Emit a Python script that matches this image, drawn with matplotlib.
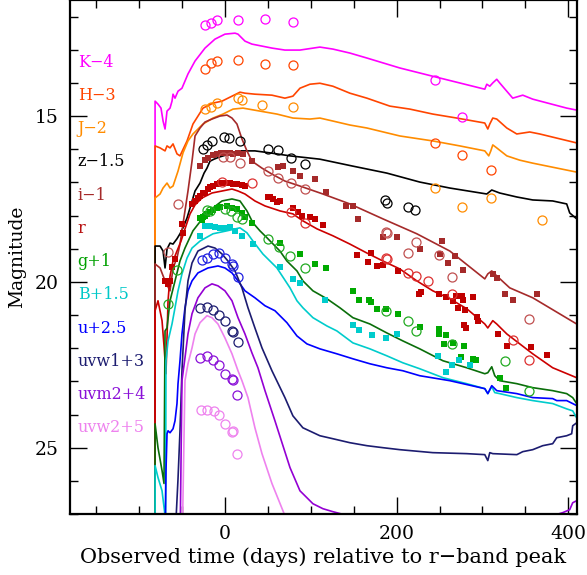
import matplotlib.pyplot as plt
from matplotlib.ticker import MultipleLocator

plt.rcParams['font.family'] = 'DejaVu Serif'

# ---- model light curves (day, magnitude incl. offset) ----
k_day = [-81, -81, -77.6, -74.1, -71.7, -69.4, -67.1, -63.6, -61.3, -60.1, -57.8, -54.3, -49.7, -42.7, -34.5,
         -22.9, -11.3, 0.3, 12, 15.5, 23.6, 31.7, 43.4, 55, 70.1, 87.6, 110.8, 125.9, 145.7, 165.5, 203.8,
         242.2, 302.7, 305, 308.5, 312, 316.6, 320, 335.2, 346.9, 358.5, 398, 409.6]
k_mag = [28, 14.55, 14.64, 14.76, 15.15, 15.39, 14.85, 14.76, 14.55, 14.34, 14.46, 14.25, 14.16, 13.73, 13.34,
         12.95, 12.68, 12.53, 12.5, 12.53, 12.74, 12.83, 12.89, 12.95, 13.01, 13.01, 12.92, 12.98, 13.1, 13.25, 13.55,
         13.8, 14.19, 14.04, 14.1, 14.0, 13.89, 14.0, 14.46, 14.37, 14.49, 14.76, 14.82]

h_day = [-81, -81, -75.2, -69.4, -67.1, -63.6, -60.1, -55.5, -52, -43.8, -36.9, -25.2, -13.6, -3.1, 8.5, 17.8,
         23.6, 35.2, 55, 70.1, 79.4, 87.6, 99.2, 110.8, 125.9, 145.7, 165.5, 192.2, 215.5, 242.2, 270.1, 302.7,
         306.2, 308.5, 312, 316.6, 328.3, 339.9, 355, 366.6, 409.6]
h_mag = [28, 15.9, 15.96, 16.05, 15.9, 15.96, 15.84, 16.14, 16.2, 15.75, 15.24, 14.76, 14.61, 14.55, 14.4, 14.28,
         14.31, 14.34, 14.37, 14.46, 14.4, 14.16, 14.04, 14.01, 14.1, 14.31, 14.46, 14.7, 14.79, 14.94, 15.06, 15.21,
         15.39, 15.24, 15.06, 15.09, 15.36, 15.54, 15.48, 15.54, 15.81]

j_day = [-81, -81, -75.2, -71.7, -67.1, -63.6, -60.1, -54.3, -48.5, -42.7, -36.9, -25.2, -13.6, -2, 9.7, 21.3,
         41, 60.8, 79.4, 99.2, 110.8, 125.9, 145.7, 165.5, 203.8, 242.2, 273.6, 302.7, 307.3, 309.7, 312, 316.6,
         328.3, 343.4, 358.5, 409.6]
j_mag = [28, 17.47, 17.35, 17.17, 17.02, 17.17, 17.11, 16.66, 16.11, 15.75, 15.54, 15.24, 15.06, 14.94, 14.79, 14.76,
         14.85, 14.94, 15.06, 15.09, 15.06, 15.15, 15.27, 15.36, 15.6, 15.75, 15.9, 16.05, 16.2, 16.05, 15.87, 15.96,
         16.2, 16.33, 16.42, 16.69]

z_day = [-81, -81, -75.2, -71.7, -69.4, -67.1, -63.6, -60.1, -55.5, -52, -48.5, -43.8, -40.3, -34.5, -28.7, -24,
         -20.6, -17.1, -12.4, -5.5, 6.2, 17.8, 35.2, 52.7, 75.9, 110.8, 149.2, 188.7, 227, 261.9, 305, 310.8, 320,
         339.9, 358.5, 381.7, 398, 401.5, 409.6]
z_mag = [28, 18.92, 18.92, 19.07, 19.58, 19.01, 18.83, 18.86, 18.7, 18.55, 18.37, 18.07, 17.77, 17.26, 17.02, 16.72,
         16.57, 16.36, 16.3, 16.23, 16.14, 16.05, 16.05, 16.11, 16.2, 16.3, 16.51, 16.72, 16.99, 17.17, 17.35, 17.23,
         17.32, 17.44, 17.53, 17.56, 17.65, 17.92, 18.1]

i_day = [-81, -81, -75.2, -69.4, -63.6, -60.1, -55.5, -52, -48.5, -46.2, -42.7, -38, -34.5, -28.7, -22.9, -14.8,
         -5.5, 2.7, 8.5, 14.3, 20.1, 25.9, 31.7, 43.4, 55, 70.1, 87.6, 114.3, 145.7, 184.1, 223.6, 262, 302.7,
         306.2, 310.8, 316.6, 331.7, 358.5, 409.6]
i_mag = [28, 19.46, 19.58, 19.97, 20.27, 19.58, 19.28, 18.86, 18.25, 17.86, 17.26, 16.36, 15.6, 15.36, 15.18, 15.09,
         15.0, 14.97, 15.06, 15.24, 15.69, 16.05, 16.36, 16.57, 16.75, 16.96, 17.11, 17.35, 17.65, 18.1, 18.55, 19.07,
         19.91, 19.76, 19.67, 19.82, 20.18, 20.48, 21.27]

r_day = [-81, -81, -77.6, -72.9, -70.6, -68.3, -65.9, -63.6, -60.1, -55.5, -50.8, -45, -40.3, -34.5, -26.4, -14.8,
         -3.1, 8.5, 15.5, 23.6, 35.2, 46.9, 64.3, 79.4, 91, 107.3, 125.9, 145.7, 165.5, 184.1, 203.8, 223.6, 242.2,
         262, 281.7, 302.7, 306.2, 312, 316.6, 328.3, 358.5, 381.7, 409.6]
r_mag = [28, 20.87, 20.57, 21.17, 21.93, 22.77, 20.57, 19.82, 19.37, 19.07, 18.77, 18.31, 17.95, 17.68, 17.47, 17.32,
         17.26, 17.2, 17.26, 17.35, 17.56, 17.71, 17.86, 17.95, 18.16, 18.4, 18.61, 18.86, 19.13, 19.37, 19.61, 19.97,
         20.27, 20.51, 20.81, 21.27, 21.39, 21.17, 21.27, 21.57, 22.17, 22.59, 22.89]

g_day = [-81, -81, -77.6, -72.9, -70.6, -69.4, -67.1, -63.6, -57.8, -52, -46.2, -36.9, -25.2, -13.6, -3.1, 8.5,
         17.8, 25.9, 32.9, 41, 49.2, 64.3, 72.4, 84.1, 91, 102.7, 119, 134, 149.2, 169, 188.7, 207.3, 227, 254.1,
         281.7, 302.7, 306.2, 310.8, 314.3, 320, 340, 358.5, 381.7, 398, 405, 409.6]
g_mag = [28, 24.28, 25.0, 25.69, 26.08, 21.48, 21.39, 20.57, 19.97, 19.37, 18.98, 18.46, 18.07, 17.77, 17.56, 17.5,
         17.56, 17.86, 18.22, 18.46, 18.67, 19.07, 19.37, 19.67, 19.97, 20.27, 20.51, 20.78, 21.08, 21.27, 21.54, 21.78,
         22.02, 22.38, 22.59, 22.77, 22.74, 22.56, 22.83, 22.98, 23.07, 23.19, 23.28, 23.37, 23.49, 23.67]

b_day = [-81, -81, -77.6, -72.9, -69.4, -68.8, -68.3, -65.9, -61.3, -57.8, -54.3, -49.7, -43.8, -38, -28.7, -13.6,
         2.7, 17.8, 25.9, 32.9, 44.5, 60.8, 76, 84.1, 91, 102.7, 119, 130.6, 149.2, 169, 188.7, 207.3, 227, 254.1,
         281.7, 302.7, 306.2, 310.8, 314.3, 320, 340, 358.5, 381.7, 398, 405, 409.6]
b_mag = [28, 25.54, 25.9, 26.3, 27.05, 27.3, 22.38, 21.78, 21.27, 20.78, 20.27, 19.76, 19.28, 18.98, 18.77, 18.55,
         18.46, 18.37, 18.52, 18.77, 19.16, 19.58, 20.18, 20.57, 20.78, 21.08, 21.33, 21.48, 21.84, 22.02, 22.23, 22.44,
         22.62, 22.89, 23.07, 23.22, 23.37, 23.16, 23.34, 23.37, 23.49, 23.58, 23.67, 23.83, 23.89, 24.1]

u_day = [-69.4, -68.3, -67.1, -65.9, -63.6, -60.1, -57.8, -55.5, -54.3, -52, -49.7, -46.2, -42.7, -38, -31.1,
         -19.4, -7.8, 0.3, 8.5, 15.5, 23.6, 35.2, 46.9, 58.5, 72.4, 84.1, 95.7, 110.8, 130.6, 149.2, 169, 188.7,
         207.3, 227, 262, 302.7, 306.2, 310.8, 316.6, 340, 358.5, 381.7, 386.4, 398, 409.6]
u_mag = [28, 25.69, 24.58, 24.49, 24.55, 24.43, 24.19, 23.67, 23.07, 22.38, 21.57, 20.78, 20.27, 19.97, 19.73,
         19.58, 19.52, 19.58, 19.73, 19.97, 20.27, 20.48, 20.72, 20.87, 21.23, 21.63, 21.87, 22.02, 22.17, 22.32,
         22.47, 22.59, 22.68, 22.83, 22.98, 23.22, 23.37, 23.13, 23.28, 23.37, 23.49, 23.52, 23.58, 23.58, 23.73]

w1_day = [-57.5, -56.6, -54.3, -52, -49.7, -46.2, -42.7, -38, -31.1, -19.4, -11.3, -3.1, 3.8, 12, 20.1, 27.1, 35.2,
          43.4, 55, 70.1, 79.4, 91, 110.8, 125.9, 145.7, 165.5, 184.1, 203.8, 242.2, 281.7, 302.7, 306.2, 308.5, 312,
          340, 346.9, 358.5, 370.1, 381.7, 386.4, 398, 403.8, 405, 409.6]
w1_mag = [28, 27.15, 25.94, 24.49, 22.68, 20.87, 19.97, 19.43, 19.07, 18.92, 18.98, 19.16, 19.37, 19.67, 20.18,
          20.78, 21.39, 21.99, 22.68, 23.49, 24.04, 24.4, 24.64, 24.73, 24.85, 24.94, 25.0, 25.06, 25.15, 25.18, 25.21,
          25.39, 25.15, 25.18, 25.21, 25.12, 25.06, 24.94, 24.88, 24.7, 24.64, 24.58, 24.34, 24.25]

m2_day = [-52, -49.7, -46.2, -42.7, -38, -31.1, -22.9, -14.8, -7.8, 0.3, 8.5, 15.5, 23.6, 31.7, 38.7, 46.9, 58.5,
          67.8, 76, 87.6, 102.7, 114.3, 125.9, 143.4, 150]
m2_mag = [28, 22.98, 22.29, 21.57, 20.96, 20.48, 20.18, 20.06, 20.12, 20.27, 20.57, 21.08, 21.57, 22.14, 22.59,
          23.28, 24.19, 24.94, 25.6, 26.3, 26.69, 26.84, 26.93, 27.05, 27.2]
m2_late_day = [376, 381.7, 393.3, 401.5, 405, 409.6]
m2_late_mag = [27.2, 27.05, 26.96, 26.87, 26.66, 26.6]

w2_day = [-49.5, -46.2, -42.7, -38, -34.5, -28.7, -20.6, -14.8, -7.8, 0.3, 8.5, 15.5, 20.1, 27.1, 35.2, 43.4, 55,
          70.1, 72]
w2_mag = [28, 22.98, 22.47, 21.99, 21.57, 21.23, 21.02, 21.08, 21.27, 21.69, 22.17, 22.68, 22.98, 23.49, 24.4,
          25.18, 26.08, 27.05, 27.2]

# ---- observations: open circles (day, mag) ----
k_obs_day = [-22.9, -15.9, -9.0, 15.5, 46.9, 79.4, 244.5, 276.0]
k_obs_mag = [12.26, 12.20, 12.11, 12.11, 12.08, 12.17, 13.92, 15.03]
h_obs_day = [-22.9, -15.9, -9.0, 15.5, 46.9, 79.4, 244.5, 276.0, 309.7]
h_obs_mag = [13.58, 13.40, 13.34, 13.31, 13.43, 13.46, 15.81, 16.17, 16.63]
j_obs_day = [-22.9, -15.9, -9.0, 15.5, 20.1, 43.4, 79.4, 244.5, 276.0, 309.7, 368.9]
j_obs_mag = [14.79, 14.73, 14.61, 14.46, 14.52, 14.67, 14.73, 17.17, 17.74, 17.47, 18.13]
z_obs_day = [-25.2, -20.6, -14.8, -0.8, 5.0, 17.8, 50.3, 62.0, 77.1, 93.4, 186.4, 188.7, 213.1, 221.3]
z_obs_mag = [15.99, 15.87, 15.75, 15.63, 15.66, 15.75, 15.99, 16.02, 16.27, 16.45, 17.53, 17.62, 17.74, 17.83]
i_obs_day = [-66.5, -54.3, -2.0, 6.2, 17.8, 50.3, 62.0, 77.1, 93.4, 187.6, 188.7, 213.1, 222.4, 249.2, 264.3, 353.8]
i_obs_mag = [19.1, 17.65, 16.23, 16.23, 16.42, 16.66, 16.87, 17.02, 17.20, 18.49, 18.52, 19.13, 18.80, 19.19,
             19.85, 21.11]
r_obs_day = [-3.1, 31.7, 77.1, 93.4, 187.6, 188.7, 213.1, 222.4, 236.4, 264.3, 335.2, 353.8]
r_obs_mag = [16.99, 17.02, 17.89, 18.22, 19.28, 19.31, 19.73, 19.82, 19.97, 20.36, 21.75, 22.35]
g_obs_day = [-65.9, -55.5, -20.6, -17.1, 0.3, 7.3, 14.3, 20.1, 50.3, 63.1, 75.9, 93.4, 187.6, 213.1, 222.4, 264.3,
             326.0, 353.8]
g_obs_mag = [20.66, 19.64, 17.83, 17.86, 17.80, 17.86, 18.04, 18.10, 18.70, 18.95, 19.22, 19.58, 20.87, 21.17,
             21.48, 21.87, 22.38, 23.28]
u_obs_day = [-26.4, -20.6, -13.6, -6.6, 0.3, 8.5, 9.7, 15.5]
u_obs_mag = [19.34, 19.28, 19.16, 19.13, 19.28, 19.46, 19.52, 19.85]
w1_obs_day = [-28.7, -20.6, -13.6, -6.6, 0.3, 8.5, 9.7, 15.5]
w1_obs_mag = [20.78, 20.75, 20.84, 20.99, 21.17, 21.48, 21.51, 21.81]
m2_obs_day = [-28.7, -20.6, -13.6, -6.6, 0.3, 8.5, 9.7, 14.3]
m2_obs_mag = [22.29, 22.23, 22.35, 22.50, 22.77, 22.92, 22.95, 23.40]
w2_obs_day = [-27.6, -20.6, -12.4, -6.6, 0.3, 8.5, 9.7, 14.3]
w2_obs_mag = [23.86, 23.86, 23.89, 24.01, 24.28, 24.52, 24.49, 25.18]

# ---- observations: filled squares (day, mag) ----
i_sq_day = [-28.7, -22.9, -19.4, -13.6, -9.0, -4.3, 1.5, 6.2, 9.7, 15.5, 21.3, 31.7, 62.0, 67.8, 79.4, 87.6, 105.0,
            117.8, 141.0, 149.2, 155.0, 184.1, 200.3, 227.1, 252.7, 250.3, 259.7, 267.8, 277.1, 312.0, 316.6,
            326.0, 335.2, 363.1]
i_sq_mag = [16.51, 16.33, 16.27, 16.17, 16.14, 16.11, 16.11, 16.11, 16.14, 16.11, 16.14, 16.36, 16.54, 16.51, 16.66,
            16.81, 16.90, 17.29, 17.71, 17.71, 18.10, 18.64, 18.64, 19.01, 18.77, 19.16, 19.43, 19.22, 19.64, 19.76,
            19.88, 20.36, 20.54, 20.36]
r_sq_day = [-69.4, -65.9, -63.6, -61.3, -57.8, -49.7, -48.5, -38.0, -34.5, -31.0, -28.7, -25.2, -22.9, -19.4, -17.1,
            -13.6, -9.0, -5.5, -2.0, 2.7, 6.2, 9.7, 14.3, 20.1, 23.6, 50.3, 52.7, 56.2, 60.8, 64.3, 79.4, 85.2, 89.9,
            99.2, 105.0, 114.3, 153.8, 166.6, 170.1, 177.1, 184.1, 201.5, 225.9, 228.3, 249.2, 257.3, 265.5, 269.0,
            276.0, 277.1, 288.7, 271.3, 279.4, 293.4, 294.5, 278.3, 280.6, 317.8, 328.3, 356.2, 374.8]
r_sq_mag = [19.97, 20.06, 19.97, 19.55, 19.31, 18.25, 18.52, 17.65, 17.56, 17.47, 17.41, 17.32, 17.32, 17.20, 17.14,
            17.11, 17.05, 17.02, 17.02, 17.02, 17.02, 17.05, 17.05, 17.08, 17.11, 17.44, 17.44, 17.50, 17.59, 17.56,
            17.77, 17.89, 18.01, 18.04, 18.10, 18.28, 19.19, 19.40, 19.13, 19.52, 19.49, 19.67, 20.36, 20.30, 20.36,
            20.45, 20.57, 20.42, 20.42, 20.54, 20.45, 20.78, 20.84, 21.05, 21.17, 21.30, 21.39, 21.57, 21.93, 21.96,
            22.20]
g_sq_day = [-28.7, -26.4, -25.2, -22.9, -20.6, -17.1, -13.6, -9.0, -5.5, 2.7, 8.5, 14.3, 20.1, 23.6, 31.7, 64.3,
            87.6, 105.0, 117.8, 149.2, 156.2, 167.8, 170.1, 177.1, 187.6, 201.5, 227.1, 249.2, 249.2, 257.3, 255.0,
            265.5, 278.3, 274.8, 288.7, 292.2, 320.1, 327.1]
g_sq_mag = [18.07, 18.13, 18.04, 18.01, 17.95, 17.89, 17.83, 17.77, 17.74, 17.71, 17.77, 17.80, 17.92, 18.04, 18.22,
            18.83, 19.16, 19.46, 19.58, 20.27, 20.54, 20.54, 20.60, 20.81, 20.81, 20.96, 21.36, 21.42, 21.57, 21.60,
            21.87, 21.84, 21.93, 22.26, 22.32, 22.35, 22.89, 23.19]
b_sq_day = [-28.7, -22.9, -17.1, -11.3, -5.5, 0.3, 6.2, 12.0, 20.1, 32.9, 64.3, 79.4, 87.6, 116.6, 149.2, 156.2,
            171.3, 187.6, 200.3, 248.0, 257.3, 264.3, 272.4, 285.2]
b_sq_mag = [18.61, 18.31, 18.31, 18.34, 18.37, 18.37, 18.34, 18.46, 18.61, 18.86, 19.55, 19.91, 20.03, 20.54, 21.30,
            21.45, 21.60, 21.69, 21.57, 22.23, 22.71, 22.50, 22.35, 22.50]

band_labels = ['K\u22124', 'H\u22123', 'J\u22122', 'z\u22121.5', 'i\u22121', 'r', 'g+1', 'B+1.5', 'u+2.5',
               'uvw1+3', 'uvm2+4', 'uvw2+5']
label_colors = ['#ff00ff', '#ff4500', '#ff8c00', 'black', '#a52a2a', '#b81010', '#00a000', '#00c8c8', '#0000ff',
                '#1c1c70', '#8a10d8', '#ee82ee']

fig = plt.figure(figsize=(5.87, 5.75), dpi=100)
ax = fig.add_axes([70 / 587, 61 / 575, 507 / 587, 514 / 575])

lw = 1.2
ax.plot(k_day, k_mag, color='#ff00ff', lw=lw)
ax.plot(h_day, h_mag, color='#ff4500', lw=lw)
ax.plot(j_day, j_mag, color='#ff8c00', lw=lw)
ax.plot(z_day, z_mag, color='black', lw=lw)
ax.plot(i_day, i_mag, color='#a52a2a', lw=lw)
ax.plot(r_day, r_mag, color='#cc0000', lw=lw)
ax.plot(g_day, g_mag, color='#0a6e0a', lw=lw)
ax.plot(b_day, b_mag, color='#00cccc', lw=lw)
ax.plot(u_day, u_mag, color='#0000ff', lw=lw)
ax.plot(w1_day, w1_mag, color='#1c1c70', lw=lw)
ax.plot(m2_day, m2_mag, color='#9400d3', lw=lw)
ax.plot(m2_late_day, m2_late_mag, color='#9400d3', lw=lw)
ax.plot(w2_day, w2_mag, color='#ee82ee', lw=lw)

sq = dict(marker='s', ls='none', ms=5, mew=0)
ax.plot(i_sq_day, i_sq_mag, color='#a52a2a', **sq)
ax.plot(r_sq_day, r_sq_mag, color='#c00000', **sq)
ax.plot(g_sq_day, g_sq_mag, color='#00aa00', **sq)
ax.plot(b_sq_day, b_sq_mag, color='#00cccc', **sq)

circ = dict(marker='o', ls='none', ms=6.5, mfc='none', mew=0.9)
ax.plot(k_obs_day, k_obs_mag, mec='#ff00ff', **circ)
ax.plot(h_obs_day, h_obs_mag, mec='#ff4500', **circ)
ax.plot(j_obs_day, j_obs_mag, mec='#ff8c00', **circ)
ax.plot(z_obs_day, z_obs_mag, mec='black', **circ)
ax.plot(i_obs_day, i_obs_mag, mec='#c05050', **circ)
ax.plot(r_obs_day, r_obs_mag, mec='#dd3030', **circ)
ax.plot(g_obs_day, g_obs_mag, mec='#22aa22', **circ)
ax.plot(u_obs_day, u_obs_mag, mec='#2020e0', **circ)
ax.plot(w1_obs_day, w1_obs_mag, mec='#1c1c70', **circ)
ax.plot(m2_obs_day, m2_obs_mag, mec='#8a10d8', **circ)
ax.plot(w2_obs_day, w2_obs_mag, mec='#ee82ee', **circ)

for k, (lab, col) in enumerate(zip(band_labels, label_colors)):
    ax.text(-171, 13.37 + k * 1.003, lab, color=col, fontsize=11.5, va='center', ha='left')

ax.set_xlim(-180, 410)
ax.set_ylim(27.0, 11.5)
ax.xaxis.set_major_locator(MultipleLocator(200))
ax.xaxis.set_minor_locator(MultipleLocator(50))
ax.yaxis.set_major_locator(MultipleLocator(5))
ax.yaxis.set_minor_locator(MultipleLocator(1))
ax.tick_params(which='both', direction='in', top=True, right=True, width=1.0, labelsize=13.5, pad=8)
ax.tick_params(which='major', length=12)
ax.tick_params(which='minor', length=6)
for s in ax.spines.values():
    s.set_linewidth(1.6)

ax.set_xlabel('Observed time (days) relative to r\u2212band peak', fontsize=15, labelpad=3)
ax.set_ylabel('Magnitude', fontsize=13.5, labelpad=6)

fig.savefig('out.png', dpi=100)
